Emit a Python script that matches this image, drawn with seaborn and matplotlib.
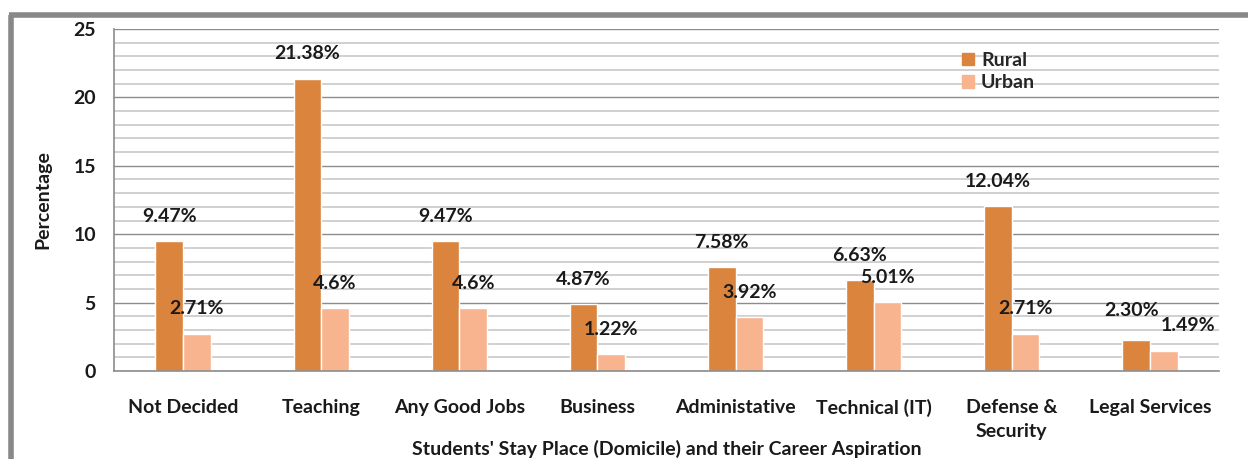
import numpy as np
import pandas as pd
import matplotlib
matplotlib.use('Agg')
import matplotlib.pyplot as plt
from matplotlib.lines import Line2D
import seaborn as sns


categories = ['Not Decided', 'Teaching', 'Any Good Jobs', 'Business',
              'Administative', 'Technical (IT)', 'Defense &\nSecurity', 'Legal Services']
rural = [9.47, 21.38, 9.47, 4.87, 7.58, 6.63, 12.04, 2.30]
urban = [2.71, 4.6, 4.6, 1.22, 3.92, 5.01, 2.71, 1.49]
rural_labels = ['9.47%', '21.38%', '9.47%', '4.87%', '7.58%', '6.63%', '12.04%', '2.30%']
urban_labels = ['2.71%', '4.6%', '4.6%', '1.22%', '3.92%', '5.01%', '2.71%', '1.49%']
groups = ['Rural', 'Urban']

df = pd.DataFrame({
    'category': categories * 2,
    'value': rural + urban,
    'group': ['Rural'] * len(categories) + ['Urban'] * len(categories),
})

sns.set_style('white')
plt.rcParams['font.family'] = ['Lato', 'DejaVu Sans']
plt.rcParams['font.weight'] = 'bold'
FS = 14

fig = plt.figure(figsize=(12.48, 4.59), dpi=100)
ax = fig.add_axes([114 / 1248, 1 - 371 / 459, 1105 / 1248, 342 / 459])

# gridlines: minor every 1, major every 5
for v in range(0, 26):
    ax.axhline(v, color='#8c8c8c' if v % 5 == 0 else '#c8c8c8', lw=1.0 if v % 5 == 0 else 1.2, zorder=0)

palette = {'Rural': '#DA843E', 'Urban': '#F8B48F'}
sns.barplot(data=df, x='category', y='value', hue='group', palette=palette,
            width=0.4, gap=0, saturation=1, ax=ax, zorder=2, legend=False)

# label nudges (pixels) for the crowded last group
nudge = {(0, 7): (-5, 29), (1, 7): (24, 25)}
for gi, (cont, labels) in enumerate(zip(ax.containers, [rural_labels, urban_labels])):
    for ci, (bar, lab) in enumerate(zip(cont, labels)):
        ax.annotate(lab, (bar.get_x() + bar.get_width() / 2, bar.get_height()),
                    xytext=nudge.get((gi, ci), (0, 25)), textcoords='offset pixels',
                    ha='center', va='center',
                    fontsize=FS, fontweight='bold', color='#1a1a1a', zorder=5)

ax.set_ylim(0, 25)
ax.set_xlim(-0.5, len(categories) - 0.5)
ax.set_yticks([0, 5, 10, 15, 20, 25])
ax.tick_params(axis='y', length=7, width=1, color='#8c8c8c', labelsize=FS, pad=6)
ax.tick_params(axis='x', length=0, labelsize=FS, pad=20)
for t in ax.get_xticklabels() + ax.get_yticklabels():
    t.set_fontweight('bold')
    t.set_color('#1a1a1a')
    t.set_linespacing(1.5)

for s in ['top', 'right']:
    ax.spines[s].set_visible(False)
for s in ['left', 'bottom']:
    ax.spines[s].set_color('#8c8c8c')
    ax.spines[s].set_linewidth(1.2)

ax.set_ylabel('Percentage', fontsize=FS, fontweight='bold', color='#1a1a1a', labelpad=16)
ax.set_xlabel("Students' Stay Place (Domicile) and their Career Aspiration",
              fontsize=FS, fontweight='bold', color='#1a1a1a', labelpad=0)

handles = [plt.Rectangle((0, 0), 1, 1, color=palette[g]) for g in groups]
ax.legend(handles, groups, loc='upper left', bbox_to_anchor=(0.752, 0.985), frameon=False,
          handlelength=0.6, handleheight=0.6, handletextpad=0.35, labelspacing=0.3,
          prop={'size': FS, 'weight': 'bold'})

# outer gray frame (left and top edges visible)
fig.add_artist(Line2D([10.5 / 1248, 10.5 / 1248], [0, 1 - 14.5 / 459], color='#888888', lw=4,
                      transform=fig.transFigure, solid_capstyle='butt'))
fig.add_artist(Line2D([8.5 / 1248, 1], [1 - 14.5 / 459, 1 - 14.5 / 459], color='#888888', lw=4,
                      transform=fig.transFigure, solid_capstyle='butt'))

fig.savefig('out.png', dpi=100)
